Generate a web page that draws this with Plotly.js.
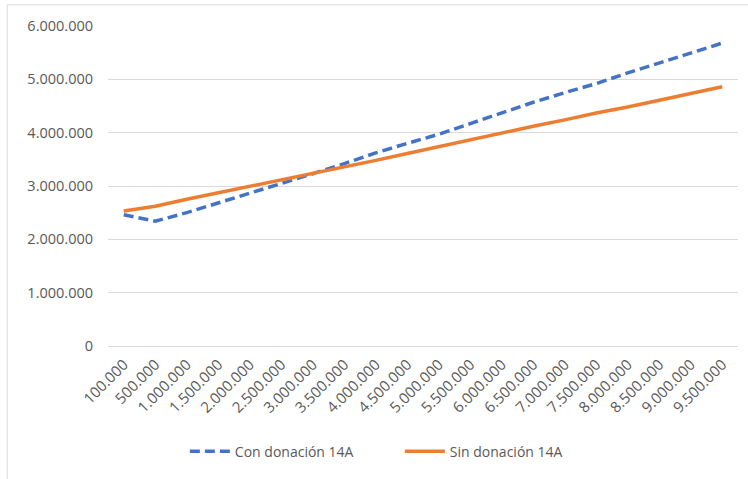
<!DOCTYPE html>
<html>
<head>
<meta charset="utf-8">
<script src="https://cdn.plot.ly/plotly-3.0.1.min.js"></script>
<style>html,body{margin:0;padding:0;background:#fff;}#chart{width:748px;height:479px;}</style>
</head>
<body>
<div id="chart"></div>
<script>
const categories = ["100.000","500.000","1.000.000","1.500.000","2.000.000","2.500.000","3.000.000","3.500.000","4.000.000","4.500.000","5.000.000","5.500.000","6.000.000","6.500.000","7.000.000","7.500.000","8.000.000","8.500.000","9.000.000","9.500.000"];
const conDonacion = [2460000,2340000,2500000,2680000,2870000,3050000,3230000,3420000,3620000,3800000,3970000,4170000,4370000,4570000,4750000,4920000,5120000,5310000,5500000,5680000];
const sinDonacion = [2530000,2620000,2750000,2870000,3000000,3110000,3240000,3360000,3480000,3610000,3740000,3870000,3990000,4120000,4240000,4370000,4480000,4610000,4730000,4860000];
const seriesNames = ["Con donación 14A","Sin donación 14A"];

const font = "Open Sans, Noto Sans, sans-serif";
const traces = [
  {x: categories, y: conDonacion, name: seriesNames[0], type: "scatter", mode: "lines",
   line: {color: "#4472C4", width: 3.5, dash: "10px,5px"}},
  {x: categories, y: sinDonacion, name: seriesNames[1], type: "scatter", mode: "lines",
   line: {color: "#ED7D31", width: 3.5}}
];
const layout = {
  width: 748, height: 479,
  margin: {l: 108, r: 10, t: 26, b: 133},
  paper_bgcolor: "#fff", plot_bgcolor: "#fff",
  separators: ",.",
  font: {family: font, color: "#595959", size: 14},
  showlegend: true,
  legend: {orientation: "h", x: 0.122, xanchor: "left", y: -0.33, yanchor: "middle",
           font: {size: 14, color: "#595959"}, itemwidth: 40, entrywidth: 160, entrywidthmode: "pixels"},
  xaxis: {type: "category", range: [-0.5, 19.5], tickangle: -45, showgrid: false, showline: false, zeroline: false,
          ticks: "", ticklabelstandoff: 6, tickfont: {size: 15, color: "#595959"}, automargin: false},
  yaxis: {range: [0, 6000000], dtick: 1000000, tickformat: ",d", showgrid: true,
          gridcolor: "#D9D9D9", gridwidth: 1, zeroline: true, zerolinecolor: "#D9D9D9",
          showline: false, ticks: "", ticklabelstandoff: 14, tickfont: {size: 14.5, color: "#595959"},
          automargin: false},
  shapes: [
    {type: "rect", xref: "paper", yref: "paper", x0: -0.16, x1: 1.05, y0: -0.45, y1: 1.066,
     line: {color: "#D9D9D9", width: 1}, fillcolor: "rgba(0,0,0,0)", layer: "below"}
  ]
};
Plotly.newPlot("chart", traces, layout, {staticPlot: true, displayModeBar: false});
</script>
</body>
</html>
